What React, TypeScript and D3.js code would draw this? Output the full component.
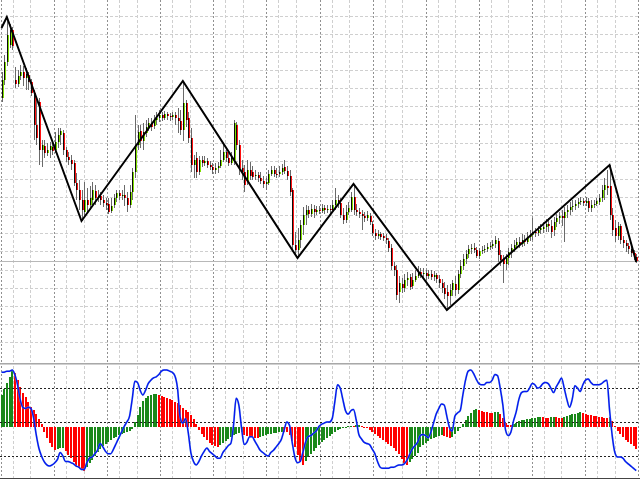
import React from "react";
import * as d3 from "d3";

// ---- price data (OHLC) ----
const openP = [
  302,320,338,355,370,320,316,324,328,322,
  325,318,307,275,298,250,254,247,250,253,
  250,258,265,267,250,243,240,237,217,210,
  200,188,200,195,200,209,202,204,200,197,
  196,189,195,202,207,204,205,202,195,208,
  228,255,269,259,267,273,277,274,280,282,
  285,282,286,284,283,285,282,279,270,297,
  282,262,235,242,228,240,237,239,235,233,
  230,232,234,240,248,242,237,240,275,255,
  232,228,218,230,228,224,225,222,219,216,
  217,226,230,226,226,228,233,229,224,210,
  155,150,160,175,185,190,186,191,188,190,
  189,192,190,191,190,195,200,197,185,180,
  188,190,203,190,188,186,184,182,184,176,
  167,164,166,164,162,159,152,134,130,108,
  116,112,120,123,114,120,124,128,126,127,
  124,126,123,125,121,117,112,108,104,110,
  116,110,126,134,141,146,151,152,150,144,
  149,150,151,153,154,156,159,145,141,136,
  142,148,152,155,158,156,160,158,163,165,
  168,167,170,171,173,176,174,170,178,182,
  184,182,188,190,193,194,196,198,199,197,
  199,192,195,196,198,202,210,214,214,185,
  172,164,174,160,157,154,151,147,143,
];
const closeP = [
  320,338,365,370,354,316,324,328,322,326,
  318,307,275,262,250,255,247,250,254,249,
  258,265,269,250,243,240,236,217,210,200,
  190,200,195,202,210,202,204,200,197,195,
  188,194,202,207,204,205,202,195,208,228,
  255,268,259,268,273,277,273,280,282,285,
  282,286,284,283,285,282,279,270,297,280,
  262,235,240,228,240,237,239,235,233,230,
  232,234,240,248,242,237,243,277,255,232,
  228,215,230,224,223,225,222,219,216,218,
  226,230,226,225,228,232,229,224,208,155,
  150,160,175,185,190,186,191,188,190,189,
  192,190,191,190,195,200,197,185,180,188,
  192,203,190,188,186,184,182,185,178,167,
  164,166,163,162,160,152,134,130,105,117,
  112,120,122,113,120,124,128,126,127,124,
  126,123,125,121,117,112,106,104,110,117,
  110,126,134,141,146,151,152,150,144,149,
  150,151,153,154,156,160,145,140,136,142,
  148,152,155,158,156,160,158,163,165,168,
  167,170,172,173,176,174,168,178,182,184,
  182,188,190,193,194,196,198,199,197,199,
  192,195,196,199,202,210,215,212,185,170,
  164,174,160,157,154,151,147,143,139,
];
const highP = [
  328,345,383,376,373,333,330,335,334,332,
  328,321,310,300,302,260,260,257,258,260,
  268,272,272,270,253,248,245,240,227,220,
  210,218,212,214,218,215,210,208,205,202,
  202,202,206,210,210,210,215,208,215,232,
  285,275,275,277,280,282,282,285,288,290,
  288,289,288,287,288,288,292,290,319,300,
  288,272,245,248,244,244,244,242,239,237,
  237,238,250,255,250,247,248,280,278,260,
  240,235,240,238,234,230,228,228,224,222,
  230,234,234,232,234,236,240,234,230,212,
  168,172,180,193,195,194,196,195,194,194,
  196,195,195,195,200,212,205,202,192,195,
  198,208,216,196,192,190,188,189,187,179,
  171,170,168,167,166,162,156,138,135,124,
  122,126,128,126,127,130,134,132,132,130,
  130,130,129,127,125,121,118,115,116,120,
  124,130,140,146,150,155,156,157,153,152,
  154,155,157,158,160,164,162,150,145,146,
  152,156,160,162,163,166,165,168,170,182,
  172,174,176,178,181,182,180,183,186,188,
  190,193,195,198,200,200,202,203,202,203,
  202,200,200,202,206,215,222,230,235,192,
  180,178,176,164,160,157,154,150,146,
];
const lowP = [
  298,315,334,352,350,312,313,320,314,310,
  310,304,260,255,235,233,242,244,242,245,
  247,252,255,245,238,235,230,214,200,190,
  179,182,188,190,193,195,198,195,193,190,
  186,187,192,198,200,200,194,188,192,200,
  222,250,252,250,263,269,269,271,275,278,
  279,280,280,279,280,275,267,265,259,273,
  257,228,222,222,225,233,234,232,230,226,
  226,227,232,238,238,234,235,235,250,225,
  220,208,215,220,220,220,218,216,212,210,
  215,224,223,222,223,225,226,220,204,150,
  144,142,152,165,175,182,183,182,185,186,
  187,186,187,186,188,190,192,182,176,177,
  185,188,185,184,182,170,178,179,175,164,
  160,161,160,159,156,148,130,124,100,97,
  107,108,114,110,111,118,122,122,121,120,
  121,120,119,117,112,107,101,90,95,104,
  104,106,122,130,136,142,146,147,142,141,
  146,147,148,150,151,152,138,134,117,130,
  135,142,148,151,152,153,154,156,159,160,
  163,164,166,167,168,168,162,164,173,176,
  174,158,182,185,188,190,192,195,194,194,
  188,188,192,194,195,198,200,205,180,164,
  158,160,156,152,148,146,143,140,137,
];

// ---- zigzag turning points (bar index, price) ----
const zigzagBar = [0, 2, 30, 68, 111, 132, 167, 228, 238];
const zigzagPrice = [372, 383, 179, 319, 142, 216, 90, 235, 138];

// ---- oscillator histogram ----
const histValues = [
  32,38,44,50,56,54,47,40,34,30,
  25,20,17,13,8,3,-5,-11,-16,-20,
  -23,-22,-21,-21,-24,-28,-31,-35,-39,-41,
  -43,-44,-40,-36,-33,-29,-25,-22,-19,-17,
  -15,-13,-11,-10,-8,-7,-6,-5,-4,-2,
  5,12,20,26,29,31,32,33,33,32,
  31,30,29,28,27,25,24,22,19,17,
  15,12,8,3,-3,-7,-10,-13,-16,-18,
  -19,-20,-18,-16,-14,-12,-10,-8,-7,-6,
  -5,-8,-9,-10,-10,-11,-11,-10,-9,-8,
  -7,-7,-6,-6,-5,-5,-5,-5,-8,-14,
  -20,-28,-35,-38,-34,-30,-27,-24,-21,-18,
  -15,-13,-11,-9,-7,-5,-3,-2,-1,0,
  1,1,1,2,2,1,0,-1,-3,-5,
  -7,-9,-11,-13,-15,-17,-19,-21,-24,-27,
  -32,-36,-38,-35,-32,-29,-26,-20,-18,-16,
  -14,-12,-11,-10,-9,-8,-9,-10,-11,-10,
  -7,-4,-1,3,7,11,14,17,18,17,
  16,15,15,14,14,15,15,13,9,4,
  2,2,3,4,6,7,7,8,8,9,
  9,10,10,10,9,9,10,10,10,9,
  9,10,11,12,13,13,14,15,14,13,
  12,12,11,11,10,10,9,9,10,6,
  1,-4,-7,-10,-13,-15,-17,-19,-22,
];

// ---- oscillator line (0..100) ----
const oscLine = [
  94,94,95,95,96,92,83,70,63,62,
  63,62,54,39,27,20,15,12,11,12,
  14,17,23,20,15,15,14,13,11,10,
  8,8,14,18,19,22,25,31,28,24,
  22,22,26,31,36,41,46,50,55,70,
  86,85,78,74,78,84,87,89,90,92,
  95,96,96,95,94,91,80,54,49,53,
  41,23,15,12,15,20,24,27,24,22,
  20,18,18,23,26,29,31,47,71,65,
  45,30,32,37,37,33,29,25,23,21,
  20,23,25,28,31,35,43,50,47,32,
  19,14,15,23,32,37,38,40,42,46,
  48,49,50,50,53,68,83,80,70,60,
  57,60,61,52,39,35,32,31,30,26,
  22,15,10,9,9,9,10,10,11,12,
  12,13,16,21,26,29,32,38,39,38,
  36,41,49,57,62,66,65,55,45,42,
  55,58,60,74,87,95,96,93,88,84,
  83,83,85,85,87,92,91,80,65,43,
  38,41,51,59,70,76,77,77,80,84,
  83,80,81,84,85,84,80,76,81,85,
  89,80,70,63,70,82,80,77,83,87,
  88,85,83,83,83,84,86,87,61,38,
  23,19,19,18,15,13,11,9,7,
];
const oscLevels = [80, 50, 20];

export default function App() {
  const W = 640;
  const H = 480;
  const N = closeP.length;

  const mainTop = 0;
  const mainBottom = 362;
  const subTop = 365.5;
  const subBottom = 478.5;

  const x = d3.scaleLinear().domain([0, N - 1]).range([1.5, 636.2]);
  const yP = d3.scaleLinear().domain([38, 400]).range([mainBottom, mainTop]);
  const yH = d3.scaleLinear().domain([-51.5, 61.5]).range([subBottom, subTop]);
  const yS = d3.scaleLinear().domain([0, 100]).range([subBottom, subTop]);

  // grid (styling)
  const hGridPrices = d3.range(0, 19).map((k) => 384.5 - 18.15 * k).filter((p) => yP(p) < mainBottom - 2);
  const period = 19.91;
  const vGrid: { bar: number; dark: boolean }[] = [];
  for (let k = 0; k < 14; k++) {
    const b = -0.19 + period * k;
    vGrid.push({ bar: b, dark: true });
    vGrid.push({ bar: b + 4.5, dark: false });
    vGrid.push({ bar: b + 11.06, dark: false });
  }
  const vLines = vGrid.filter((g) => x(g.bar) >= 0 && x(g.bar) <= W);

  const zz = zigzagBar.map((b, i) => [x(b), yP(zigzagPrice[i])] as [number, number]);
  const zzPath = d3.line()(zz) || "";

  const oscPath =
    d3
      .line<number>()
      .x((_, i) => x(i))
      .y((v) => yS(v))
      .curve(d3.curveMonotoneX)(oscLine) || "";

  const lastY = Math.round(yP(closeP[N - 1])) + 0.5;

  return (
    <svg
      width={W}
      height={H}
      style={{ position: "absolute", left: 0, top: 0, background: "#ffffff", display: "block" }}
      shapeRendering="crispEdges"
    >
      <rect x={0} y={0} width={W} height={H} fill="#ffffff" />
      {/* main grid */}
      {hGridPrices.map((p, i) => (
        <line key={"hg" + i} x1={0} x2={W} y1={Math.round(yP(p)) + 0.5} y2={Math.round(yP(p)) + 0.5}
          stroke="#cfcfcf" strokeDasharray="3,2" />
      ))}
      {vLines.map((g, i) => (
        <line key={"vg" + i} x1={Math.round(x(g.bar)) + 0.5} x2={Math.round(x(g.bar)) + 0.5} y1={0} y2={mainBottom}
          stroke={g.dark ? "#909090" : "#cfcfcf"} strokeDasharray={g.dark ? "2,2" : "3,2"} />
      ))}
      {/* sub grid */}
      {vLines.map((g, i) => (
        <line key={"vs" + i} x1={Math.round(x(g.bar)) + 0.5} x2={Math.round(x(g.bar)) + 0.5} y1={subTop} y2={subBottom}
          stroke={g.dark ? "#909090" : "#cfcfcf"} strokeDasharray={g.dark ? "2,2" : "3,2"} />
      ))}

      {/* current price line */}
      <line x1={0} x2={W} y1={lastY} y2={lastY} stroke="#b8b8b8" strokeWidth={1} />

      {/* candles */}
      {closeP.map((c, i) => {
        const o = openP[i];
        const cx = Math.round(x(i));
        const top = Math.round(yP(Math.max(o, c)));
        const bot = Math.round(yP(Math.min(o, c)));
        const h = Math.max(1, bot - top);
        const bull = c >= o;
        return (
          <g key={"c" + i}>
            <line x1={cx + 0.5} x2={cx + 0.5} y1={Math.round(yP(highP[i]))} y2={Math.round(yP(lowP[i]))} stroke="#6a6a6a" />
            <rect x={cx} y={top} width={2} height={h} fill={bull ? "#7fe000" : "#ff1010"} />
            <rect x={cx} y={top} width={1} height={h} fill="#0a0a0a" />
          </g>
        );
      })}

      {/* zigzag */}
      <path d={zzPath} fill="none" stroke="#000000" strokeWidth={2} shapeRendering="auto" strokeLinejoin="miter" />

      {/* separator */}
      <line x1={0} x2={W} y1={363.5} y2={363.5} stroke="#a8a8a8" />
      <line x1={0} x2={W} y1={364.5} y2={364.5} stroke="#d0d0d0" />

      {/* histogram */}
      {histValues.map((v, i) => {
        const prev = i > 0 ? histValues[i - 1] : v - 1;
        const up = v > prev || (v === prev && i > 0 && histValues[i - 1] > (i > 1 ? histValues[i - 2] : 0));
        const y0 = yH(0);
        const y1 = yH(v);
        const cx = Math.round(x(i));
        return (
          <rect key={"h" + i} x={cx - 1} y={Math.round(Math.min(y0, y1))} width={2}
            height={Math.max(1, Math.round(Math.abs(y1 - y0)))} fill={up ? "#1a881a" : "#ff0000"} />
        );
      })}

      {/* levels */}
      {oscLevels.map((l) => (
        <line key={"lv" + l} x1={0} x2={W} y1={Math.round(yS(l)) + 0.5} y2={Math.round(yS(l)) + 0.5}
          stroke="#222222" strokeDasharray="2,2" />
      ))}

      {/* oscillator line */}
      <path d={oscPath} fill="none" stroke="#8fdcdc" strokeWidth={2.0} shapeRendering="auto" opacity={0.6} />
      <path d={oscPath} fill="none" stroke="#0818f0" strokeWidth={1.5} shapeRendering="auto" />

      {/* bottom border */}
      <line x1={0} x2={W} y1={478.5} y2={478.5} stroke="#444444" />
    </svg>
  );
}
